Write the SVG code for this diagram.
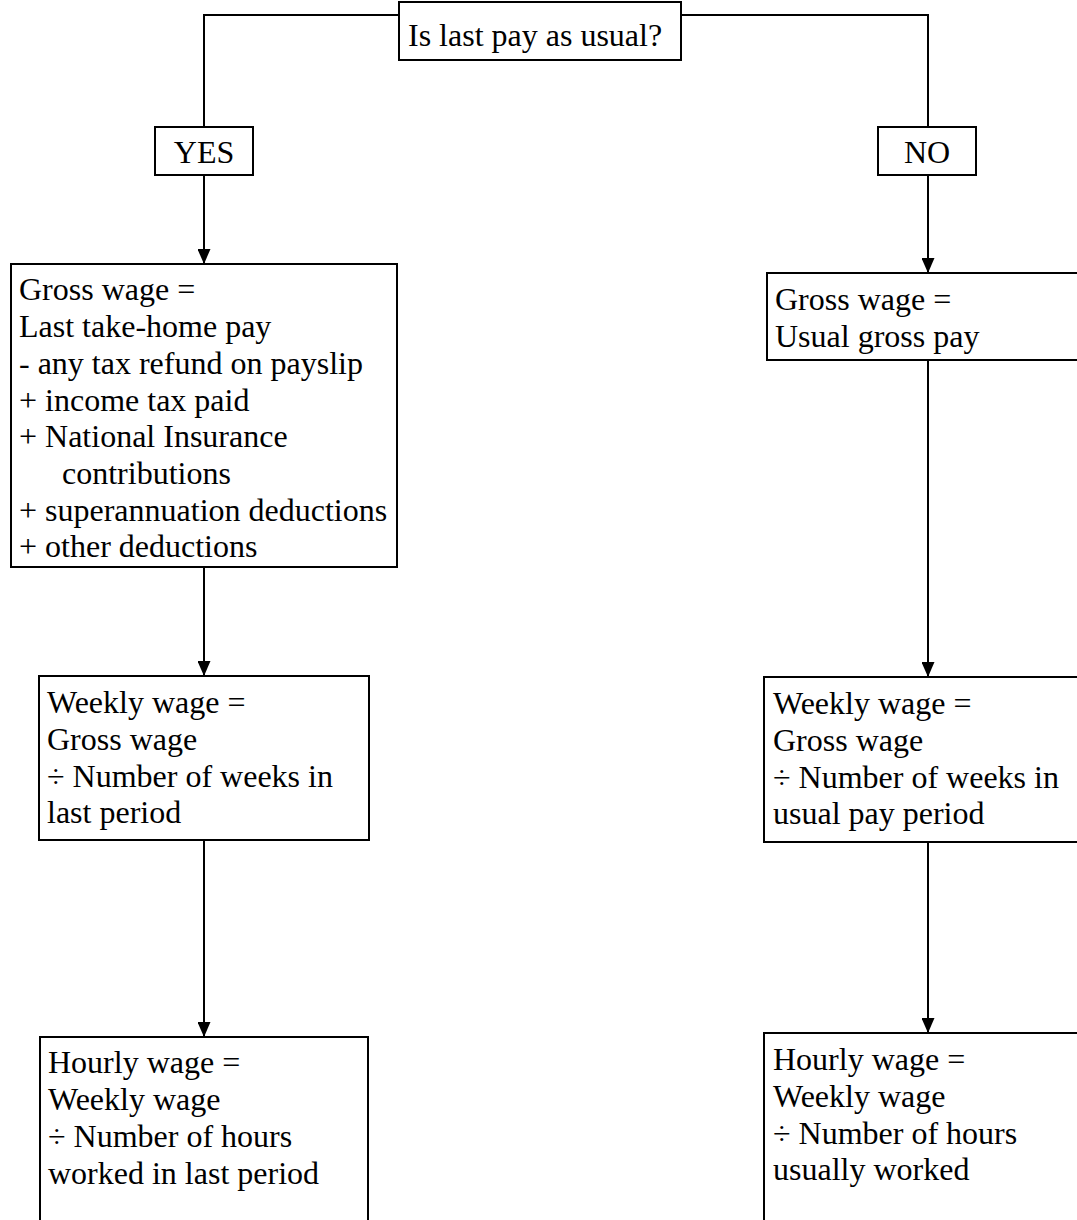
<svg xmlns="http://www.w3.org/2000/svg" width="1077" height="1220" viewBox="0 0 1077 1220">
<style>
text{font-family:"Liberation Serif","Times New Roman",serif;font-size:32px;fill:#000}
.box{fill:#fff;stroke:#000;stroke-width:2}
.edge{fill:none;stroke:#000;stroke-width:2}
</style>
<defs>
<marker id="arr" viewBox="0 0 15 13" refX="15" refY="6.5" markerWidth="15" markerHeight="13" markerUnits="userSpaceOnUse" orient="auto">
<path d="M0,0 L15,6.5 L0,13 Z" fill="#000"/>
</marker>
</defs>
<rect width="1077" height="1220" fill="#fff"/>
<g id="connectors">
<path class="edge" d="M399,15 H204 V127"/>
<path class="edge" d="M681,15 H928 V127"/>
<path class="edge" d="M204,175 V264" marker-end="url(#arr)"/>
<path class="edge" d="M928,175 V273" marker-end="url(#arr)"/>
<path class="edge" d="M204,567 V676" marker-end="url(#arr)"/>
<path class="edge" d="M928,360 V677" marker-end="url(#arr)"/>
<path class="edge" d="M204,840 V1037" marker-end="url(#arr)"/>
<path class="edge" d="M928,842 V1033" marker-end="url(#arr)"/>
</g>
<g id="q">
<rect class="box" x="399" y="2" width="282" height="58"/>
<text x="408" y="46">Is last pay as usual?</text>
</g>
<g id="yes">
<rect class="box" x="155" y="127" width="98" height="48"/>
<text x="204" y="163" text-anchor="middle">YES</text>
</g>
<g id="no">
<rect class="box" x="878" y="127" width="98" height="48"/>
<text x="927" y="163" text-anchor="middle">NO</text>
</g>
<g id="gross-yes">
<rect class="box" x="11" y="264" width="386" height="303"/>
<text x="19" y="300">Gross wage =</text>
<text x="19" y="337">Last take-home pay</text>
<text x="19" y="374">- any tax refund on payslip</text>
<text x="19" y="411">+ income tax paid</text>
<text x="19" y="447">+ National Insurance</text>
<text x="62" y="484">contributions</text>
<text x="19" y="521">+ superannuation deductions</text>
<text x="19" y="557">+ other deductions</text>
</g>
<g id="gross-no">
<rect class="box" x="767" y="273" width="320" height="87"/>
<text x="775" y="310">Gross wage =</text>
<text x="775" y="347">Usual gross pay</text>
</g>
<g id="weekly-yes">
<rect class="box" x="39" y="676" width="330" height="164"/>
<text x="47" y="713">Weekly wage =</text>
<text x="47" y="750">Gross wage</text>
<text x="47" y="787">÷ Number of weeks in</text>
<text x="47" y="823">last period</text>
</g>
<g id="weekly-no">
<rect class="box" x="764" y="677" width="323" height="165"/>
<text x="773" y="714">Weekly wage =</text>
<text x="773" y="751">Gross wage</text>
<text x="773" y="788">÷ Number of weeks in</text>
<text x="773" y="824">usual pay period</text>
</g>
<g id="hourly-yes">
<rect class="box" x="40" y="1037" width="328" height="200"/>
<text x="48" y="1073">Hourly wage =</text>
<text x="48" y="1110">Weekly wage</text>
<text x="48" y="1147">÷ Number of hours</text>
<text x="48" y="1184">worked in last period</text>
</g>
<g id="hourly-no">
<rect class="box" x="764" y="1033" width="323" height="204"/>
<text x="773" y="1070">Hourly wage =</text>
<text x="773" y="1107">Weekly wage</text>
<text x="773" y="1144">÷ Number of hours</text>
<text x="773" y="1180">usually worked</text>
</g>
</svg>
